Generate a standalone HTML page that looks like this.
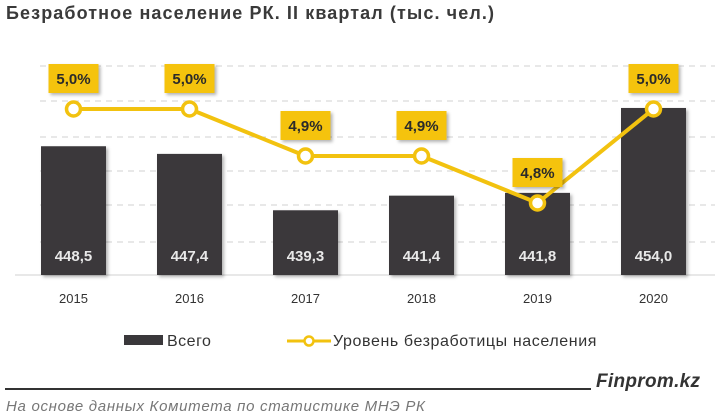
<!DOCTYPE html>
<html><head><meta charset="utf-8"><style>
body{margin:0;width:720px;height:418px;background:#fff;font-family:"Liberation Sans",sans-serif;overflow:hidden;position:relative}
</style></head><body>
<div style="position:absolute;left:6px;top:3px;font-size:18px;font-weight:bold;color:#3a3a3a;letter-spacing:1.1px;white-space:nowrap">Безработное население РК. II квартал (тыс. чел.)</div>
<svg id="chart" width="720" height="418" style="position:absolute;left:0;top:0"></svg>
<script>
const years=["2015","2016","2017","2018","2019","2020"];
const totals=[448.5,447.4,439.3,441.4,441.8,454.0];
const totalLabels=["448,5","447,4","439,3","441,4","441,8","454,0"];
const rates=[5.0,5.0,4.9,4.9,4.8,5.0];
const rateLabels=["5,0%","5,0%","4,9%","4,9%","4,8%","5,0%"];
const NS="http://www.w3.org/2000/svg";
const svg=document.getElementById('chart');
function mk(t,a,p){const e=document.createElementNS(NS,t);for(const k in a)e.setAttribute(k,a[k]);(p||svg).appendChild(e);return e;}
const base=275,x0=73.5,step=116;
const xs=i=>x0+i*step;
const yb=v=>base-(v-430)*6.96;
const yr=v=>109+(5.0-v)*470;
const defs=mk('defs',{});
defs.innerHTML='<filter id="sh" x="-20%" y="-20%" width="150%" height="160%"><feDropShadow dx="2" dy="2" stdDeviation="1.5" flood-color="#000" flood-opacity="0.3"/></filter>';
[66,101,137,171,205,242].forEach(y=>{const g=mk('line',{x1:40,x2:715,y1:y,y2:y,stroke:'#d0d0d0','stroke-dasharray':'6 5','stroke-width':1});

});
const ax=mk('line',{x1:15,x2:715,y1:base,y2:base,stroke:'#d0d0d0'});


years.forEach((yr_,i)=>{
const y=yb(totals[i]);
const b=mk('rect',{x:xs(i)-32.5,y:y,width:65,height:base-y,fill:'#3a383b',filter:'url(#sh)'});


const t=mk('text',{x:xs(i),y:base-14,'text-anchor':'middle','font-size':15,'font-weight':'bold',fill:'#e8e8e8'});t.textContent=totalLabels[i];


const l=mk('text',{x:xs(i),y:303,'text-anchor':'middle','font-size':13,fill:'#333'});l.textContent=yr_;


});
const pl=mk('polyline',{points:rates.map((v,i)=>xs(i)+','+yr(v)).join(' '),fill:'none',stroke:'#f2c20f','stroke-width':4,'stroke-linejoin':'round'});


rates.forEach((v,i)=>{
const c=mk('circle',{cx:xs(i),cy:yr(v),r:7,fill:'#fff',stroke:'#f2c20f','stroke-width':3.5});


const by=yr(v)-45;
const r=mk('rect',{x:xs(i)-25,y:by,width:50,height:29,fill:'#f5c30f',filter:'url(#sh)'});


const t=mk('text',{x:xs(i),y:by+20,'text-anchor':'middle','font-size':15,'font-weight':'bold',fill:'#2a2a2a'});t.textContent=rateLabels[i];


});
</script>
<div style="position:absolute;left:124px;top:333px;font-size:16px;color:#333;letter-spacing:0.5px;white-space:nowrap"><span style="display:inline-block;width:39px;height:10px;background:#3a383b;margin-right:4px;vertical-align:1px"></span>Всего</div>
<div style="position:absolute;left:287px;top:333px;font-size:16px;color:#333;letter-spacing:0.6px;white-space:nowrap"><svg width="44" height="14" style="vertical-align:-2px;margin-right:2px"><line x1="0" x2="44" y1="7" y2="7" stroke="#f2c20f" stroke-width="3"/><circle cx="22" cy="7" r="4.5" fill="#fff" stroke="#f2c20f" stroke-width="2.5"/></svg>Уровень безработицы населения</div>
<div style="position:absolute;left:5px;top:388px;width:586px;height:2px;background:#333"></div>
<div style="position:absolute;left:596px;top:371px;font-size:19px;font-weight:bold;font-style:italic;color:#333;letter-spacing:0.3px;white-space:nowrap">Finprom.kz</div>
<div style="position:absolute;left:6px;top:398px;font-size:15px;font-style:italic;color:#777;letter-spacing:0.7px;white-space:nowrap">На основе данных  Комитета по статистике МНЭ РК</div>
</body></html>
